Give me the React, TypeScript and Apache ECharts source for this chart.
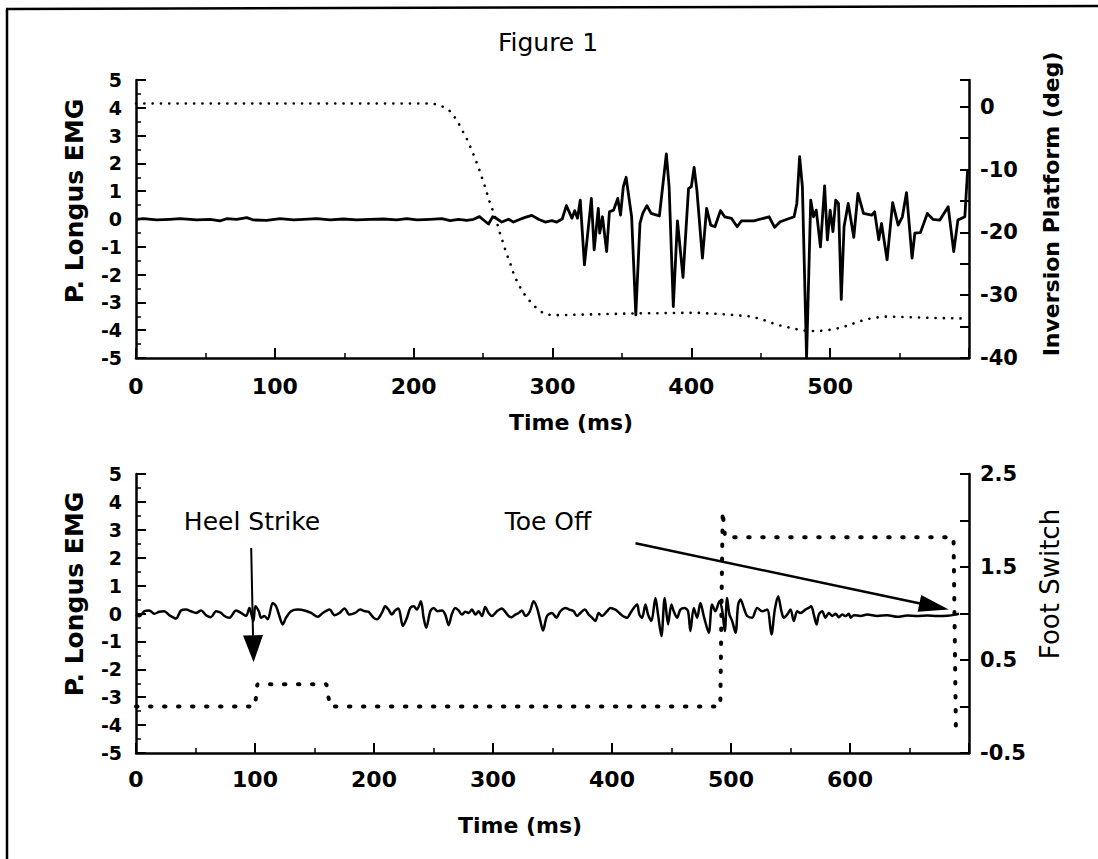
import React, { useEffect, useRef } from "react";
import * as echarts from "echarts";

// ---------- DATA ----------
// Top panel: P. Longus EMG (left axis) vs time (ms)
const emgTop: [number, number][] = [
  [0, -0.01], [5.3, 0.01], [14.9, -0.035], [24.5, -0.01], [31.7, 0.01], [43.7, -0.035], [53.3, -0.01],
  [60.5, -0.07], [65.3, 0.01], [72.5, -0.01], [79.8, 0.05], [84.6, -0.035], [94.2, -0.05], [103.8, 0.01],
  [113.4, -0.035], [120.6, -0.01], [130.2, 0.01], [139.8, -0.035], [149.4, 0.0], [159, -0.035], [168.6, -0.01],
  [178.2, 0.0], [187.8, -0.035], [195.1, 0.01], [202.3, -0.035], [211.9, -0.01], [220.3, 0.01], [226.3, -0.06],
  [232.3, -0.01], [238.3, -0.05], [243.1, -0.01], [247.4, 0.085], [250.3, -0.035], [253.9, -0.18], [257, 0.085],
  [259.9, 0.01], [263.5, -0.11], [268.3, -0.01], [271.9, -0.11], [276.7, -0.01], [280.3, 0.06], [285.1, 0.13],
  [289.9, -0.01], [294.7, -0.11], [299.5, -0.06], [303.1, -0.11], [307, 0.0], [310, 0.48], [314, 0.03],
  [316, 0.3], [318, 0.03], [320, 0.68], [323, -1.65], [328, 0.74], [330, -1.11], [333, 0.38], [334, -0.51],
  [336, 0.08], [339, -1.17], [341, 0.26], [344, 0.32], [347, 0.74], [349, 0.14], [351, 1.16], [353, 1.5],
  [357, 0.08], [360, -3.45], [363, -0.16], [365, 0.2], [368, 0.48], [371, 0.2], [377, 0.11], [382, 2.34],
  [384, 1.16], [387, -3.15], [390, -0.07], [394, -2.1], [398, 1.1], [400, 1.16], [402, 1.86], [404, 1.04],
  [408, -1.41], [411, 0.38], [414, -0.22], [417, -0.28], [421, 0.3], [424, 0.08], [429, 0.02], [433, -0.28],
  [436, -0.07], [445, -0.07], [456, 0.08], [460, -0.3], [464, -0.1], [474, 0.08], [476, 0.56], [478, 2.24],
  [480, 1.16], [483, -5.0], [486, 0.68], [488, 0.08], [490, 0.32], [493, -1.0], [496, 1.19], [498, -0.75],
  [500, 0.32], [502, -0.45], [504, 0.68], [506, 0.56], [508, -2.89], [510, -0.28], [513, 0.56], [517, -0.66],
  [520, 0.92], [524, 0.2], [530, 0.14], [532, 0.26], [535, -0.75], [537, -0.16], [541, -1.47], [545, 0.59],
  [549, -0.22], [552, 0.08], [555, 0.95], [559, -1.41], [561, -0.51], [565, -0.49], [570, 0.2], [574, -0.01],
  [579, -0.04], [585, 0.44], [589, -1.17], [592, -0.04], [597, 0.08], [599, 1.76],
];

// Top panel: Inversion platform angle (deg, right axis)
const platformAngle: [number, number][] = [
  [0, 0.5], [214, 0.5], [220.2, 0.1], [225.7, -0.6], [231, -2.1], [234.6, -3.6], [238.7, -5.3], [241.8, -6.9],
  [244.7, -8.5], [247.4, -10.1], [249.8, -11.7], [252.2, -13.3], [254.3, -14.9], [257, -16.5], [259.4, -18.0],
  [261.8, -19.9], [264.2, -21.5], [266.6, -23.2], [269.5, -24.9], [271.9, -26.5], [275, -28.1], [278.6, -29.5],
  [282.7, -30.7], [286.7, -31.7], [293.5, -32.9], [299.5, -33.2], [360.7, -32.9], [403.9, -32.8], [420.7, -33.0],
  [432.7, -33.2], [443.5, -33.4], [454.3, -34.1], [461.5, -34.7], [467.5, -35.0], [473.6, -35.3], [479.6, -35.6],
  [485.6, -35.7], [491.6, -35.7], [497.6, -35.6], [507.2, -35.2], [513.2, -34.8], [519.2, -34.3], [525.2, -33.9],
  [531.2, -33.6], [540.8, -33.4], [555.2, -33.5], [569.6, -33.6], [591.3, -33.7], [598.5, -33.7],
];

// Bottom panel: P. Longus EMG (left axis)
const emgBottom: [number, number][] = [
  [0, -0.04], [2.8, -0.1], [7, 0.08], [11.2, 0.11], [15.4, -0.01], [19.6, 0.06], [23.8, 0.08], [28, -0.06],
  [33.6, -0.18], [37.8, 0.11], [42, 0.14], [46.2, 0.08], [50.5, 0.02], [54.7, 0.11], [58.9, -0.06], [63, -0.13],
  [67.3, 0.08], [71.5, 0.02], [74.3, -0.09], [78.5, -0.15], [84.1, 0.11], [88.3, 0.02], [92.5, -0.09],
  [95.3, 0.2], [96.7, 0.02], [98.7, -0.27], [100.3, 0.26], [103.2, 0.08], [105.1, -0.15], [107.9, -0.09],
  [110.7, -0.21], [114.9, 0.38], [117.7, 0.26], [120.5, -0.09], [123.3, -0.39], [126.1, -0.15], [130.3, 0.08],
  [135.9, 0.14], [141.6, 0.11], [147.2, 0.02], [152.8, -0.12], [157, 0.02], [162.6, 0.14], [166.8, -0.06],
  [171, 0.02], [175.2, 0.18], [179.4, -0.04], [184.2, 0.02], [188.4, 0.14], [192.6, 0.08], [195.4, 0.06],
  [199.6, -0.15], [202.4, -0.21], [206.6, 0.02], [209.4, 0.26], [212.2, 0.14], [215, -0.04], [217.8, 0.11],
  [220.6, 0.18], [224.3, -0.45], [227.7, -0.15], [230.5, 0.2], [233.3, 0.26], [236.1, 0.14], [239.4, 0.44],
  [241.7, -0.15], [243.9, -0.51], [247.3, 0.08], [250.1, 0.2], [253.4, 0.08], [257.1, 0.11], [259.9, -0.04],
  [262.7, -0.42], [265.5, -0.01], [268.3, 0.2], [271.1, 0.11], [273.9, -0.04], [276.7, 0.06], [279.5, 0.02],
  [282.3, 0.14], [285.1, -0.04], [287.9, 0.08], [290.7, -0.09], [293.5, 0.23], [296.3, 0.02], [299.1, -0.09],
  [303.3, 0.08], [307.5, 0.18], [310.3, 0.06], [313.1, -0.09], [315.9, -0.13], [318.7, -0.04], [321.6, 0.02],
  [324.4, 0.11], [327.2, -0.09], [330.8, 0.06], [334.2, 0.44], [337, 0.2], [339.8, -0.27], [342, -0.61],
  [345.4, -0.09], [349.6, 0.02], [353.2, -0.15], [356.6, 0.08], [360.8, 0.2], [364.2, 0.14], [367.8, 0.08],
  [370.6, -0.09], [373.4, 0.02], [377.1, 0.14], [380.4, -0.04], [383.2, -0.15], [386, -0.27], [388.8, 0.02],
  [391.6, -0.09], [395.8, 0.08], [398.6, 0.2], [402.8, 0.14], [406.2, 0.02], [409, -0.09], [412.7, -0.15],
  [415.5, 0.02], [418.3, 0.2], [421.1, 0.32], [423, -0.04], [425.3, -0.15], [428.1, 0.32], [430.3, -0.04],
  [433.1, -0.27], [436.5, 0.56], [438.7, -0.04], [441.5, -0.81], [444.3, 0.56], [447.1, -0.39], [449.9, 0.32],
  [451.9, 0.08], [454.7, -0.15], [457.5, 0.14], [461.1, 0.2], [463.9, 0.08], [465.9, -0.63], [468.7, 0.2],
  [471.5, -0.15], [474.3, 0.38], [477.1, -0.09], [481.3, -0.69], [484.1, 0.32], [486.9, 0.08], [490.3, 0.44],
  [492.5, 0.14], [494.8, -0.63], [496.7, 0.56], [498.7, -0.04], [501, -0.27], [503.8, -0.69], [506, 0.32],
  [508, 0.5], [510.8, 0.2], [513.6, -0.09], [517.8, -0.15], [522, 0.2], [526.2, 0.08], [530.4, 0.14],
  [534, -0.75], [536.8, 0.14], [539.6, 0.62], [542.4, 0.08], [544.4, -0.15], [547.2, -0.04], [550, 0.14],
  [552.8, -0.27], [555.6, 0.08], [558.4, 0.02], [562.6, 0.14], [565.4, 0.2], [567.4, 0.26], [569.6, -0.04],
  [571.9, -0.39], [573.8, -0.04], [576.6, 0.08], [579.4, -0.15], [582.2, 0.02], [585, -0.09], [587.9, -0.01],
  [590.7, -0.13], [593.5, -0.04], [596.3, -0.09], [599.1, -0.01], [600.5, -0.15], [603.3, -0.06],
  [608.9, -0.09], [614.5, -0.04], [622.9, -0.09], [631.3, -0.06], [639.7, -0.12], [648.1, -0.07],
  [656.5, -0.09], [664.9, -0.07], [673.3, -0.09], [681.8, -0.08], [688.8, -0.04], [691.6, -0.01],
];

// Bottom panel: foot switch signal (right axis)
const footSwitch: [number, number][] = [
  [0, 0], [100, 0], [102, 0.24], [160, 0.24], [163, 0], [491, 0], [493, 2.1], [495, 1.82],
  [687, 1.82], [689, -0.25],
];

// Axis ranges / tick settings
const emgRange = { min: -5, max: 5, interval: 1 };
const platformRange = { min: -40, max: 4.25, interval: 5 };
const footRange = { min: -0.5, max: 2.5, interval: 0.5 };
const timeTop = { min: 0, max: 600, interval: 100 };
const timeBottom = { min: 0, max: 700, interval: 100 };

// Annotations (data units of bottom panel)
const heelArrow = { label: "Heel Strike", from: [96.8, 2.35], to: [98.8, -1.75] };
const toeArrow = { label: "Toe Off", from: [419.7, 2.52], to: [683, 0.14] };

// ---------- STYLES ----------
const BLACK = "#000";
const axisLine = { show: true, onZero: false, lineStyle: { color: BLACK, width: 2.5 } };
const axisTick = { show: true, inside: true, length: 10, lineStyle: { color: BLACK, width: 2 } };
const minorTick = { show: true, splitNumber: 2, length: 5, lineStyle: { color: BLACK, width: 1.5 } };
const labelBase = { color: BLACK, fontFamily: "DejaVu Sans", fontWeight: "bold" as const };

function makeX(gridIndex: number, r: { min: number; max: number; interval: number }, margin: number) {
  return {
    type: "value",
    gridIndex,
    min: r.min,
    max: r.max,
    interval: r.interval,
    axisLine,
    axisTick,
    minorTick,
    splitLine: { show: false },
    axisLabel: {
      ...labelBase,
      fontSize: 22,
      margin,
      showMaxLabel: false,
      formatter: (v: number) => (v >= r.max ? "" : String(v)),
    },
  };
}

function makeEmgY(gridIndex: number) {
  return {
    type: "value",
    gridIndex,
    position: "left",
    ...emgRange,
    axisLine,
    axisTick,
    minorTick,
    splitLine: { show: false },
    axisLabel: { ...labelBase, fontSize: 19, margin: 14 },
  };
}

export default function App() {
  const ref = useRef<HTMLDivElement>(null);

  useEffect(() => {
    if (!ref.current) return;
    const chart = echarts.init(ref.current, undefined, { renderer: "svg" });

    const option: any = {
      animation: false,
      backgroundColor: "#fff",
      grid: [
        { left: 136, top: 80, width: 833, height: 278 },
        { left: 136, top: 474, width: 833, height: 279 },
      ],
      xAxis: [makeX(0, timeTop, 17), makeX(1, timeBottom, 15)],
      yAxis: [
        makeEmgY(0),
        {
          type: "value",
          gridIndex: 0,
          position: "right",
          ...platformRange,
          axisLine,
          axisTick: { ...axisTick, length: 9 },
          splitLine: { show: false },
          axisLabel: {
            ...labelBase,
            fontSize: 21,
            margin: 11,
            formatter: (v: number) => (v > 0 || Math.abs(v % 10) > 1e-6 ? "" : String(v)),
          },
        },
        makeEmgY(1),
        {
          type: "value",
          gridIndex: 1,
          position: "right",
          ...footRange,
          axisLine,
          axisTick: { ...axisTick, length: 9 },
          splitLine: { show: false },
          axisLabel: {
            ...labelBase,
            fontSize: 21,
            margin: 11,
            formatter: (v: number) => (Math.abs(Math.round(v) - v) > 0.25 ? String(v) : ""),
          },
        },
      ],
      series: [
        {
          type: "line",
          xAxisIndex: 0,
          yAxisIndex: 0,
          data: emgTop,
          symbol: "none",
          lineStyle: { color: BLACK, width: 2.8, join: "round" },
          z: 3,
        },
        {
          type: "line",
          xAxisIndex: 0,
          yAxisIndex: 1,
          data: platformAngle,
          symbol: "none",
          lineStyle: { color: BLACK, width: 2.6, type: [0.1, 8.2], cap: "round" },
          z: 2,
        },
        {
          type: "line",
          xAxisIndex: 1,
          yAxisIndex: 2,
          data: emgBottom,
          symbol: "none",
          smooth: 0.3,
          lineStyle: { color: BLACK, width: 2.5, join: "round" },
          z: 3,
        },
        {
          type: "line",
          xAxisIndex: 1,
          yAxisIndex: 3,
          data: footSwitch,
          symbol: "none",
          lineStyle: { color: BLACK, width: 4, type: [1.5, 12.5], cap: "round" },
          z: 2,
        },
      ],
    };
    chart.setOption(option);

    const txt = (
      text: string,
      x: number,
      y: number,
      size: number,
      weight: string,
      rotation = 0
    ) => ({
      type: "text",
      x,
      y,
      rotation,
      silent: true,
      style: {
        text,
        fill: BLACK,
        fontSize: size,
        fontFamily: "DejaVu Sans",
        fontWeight: weight,
        align: "center",
        verticalAlign: "middle",
        textAlign: "center",
        textVerticalAlign: "middle",
      },
    });

    const arrow = (a: { from: number[]; to: number[] }, lw: number, headLen: number, headW: number) => {
      const p0 = chart.convertToPixel({ seriesIndex: 2 }, a.from) as number[];
      const p1 = chart.convertToPixel({ seriesIndex: 2 }, a.to) as number[];
      const dx = p1[0] - p0[0];
      const dy = p1[1] - p0[1];
      const len = Math.hypot(dx, dy);
      const ux = dx / len;
      const uy = dy / len;
      const bx = p1[0] - ux * headLen;
      const by = p1[1] - uy * headLen;
      const nx = -uy * (headW / 2);
      const ny = ux * (headW / 2);
      return [
        {
          type: "line",
          silent: true,
          shape: { x1: p0[0], y1: p0[1], x2: bx + ux * 2, y2: by + uy * 2 },
          style: { stroke: BLACK, lineWidth: lw },
        },
        {
          type: "polygon",
          silent: true,
          shape: { points: [[p1[0], p1[1]], [bx + nx, by + ny], [bx - nx, by - ny]] },
          style: { fill: BLACK },
        },
      ];
    };

    const PI2 = Math.PI / 2;
    chart.setOption({
      graphic: [
        {
          type: "line",
          silent: true,
          shape: { x1: 7, y1: 859, x2: 7, y2: 9 },
          style: { stroke: BLACK, lineWidth: 2.5 },
        },
        {
          type: "line",
          silent: true,
          shape: { x1: 6, y1: 9, x2: 1098, y2: 6 },
          style: { stroke: BLACK, lineWidth: 2.5 },
        },
        txt("Figure 1", 548, 42, 25, "normal"),
        txt("P. Longus EMG", 74, 201, 25, "bold", PI2),
        txt("Inversion Platform (deg)", 1051, 204, 22, "bold", PI2),
        txt("Time (ms)", 571, 422, 22, "bold"),
        txt("P. Longus EMG", 74, 594, 25, "bold", PI2),
        txt("Foot Switch", 1050, 584, 26, "normal", PI2),
        txt("Time (ms)", 520, 825, 22, "bold"),
        txt(heelArrow.label, 252, 521, 25, "normal"),
        txt(toeArrow.label, 548, 521, 25, "normal"),
        ...arrow(heelArrow, 2, 27, 20),
        ...arrow(toeArrow, 2.5, 30, 17),
      ],
    });

    return () => chart.dispose();
  }, []);

  return (
    <div
      ref={ref}
      style={{ position: "absolute", left: 0, top: 0, width: 1098, height: 859, background: "#fff" }}
    />
  );
}
